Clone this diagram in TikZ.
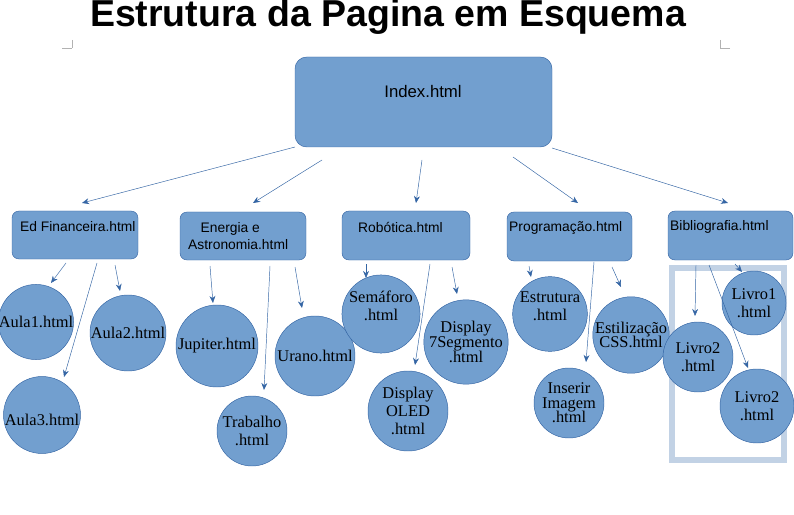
\documentclass[tikz,border=0pt]{standalone}
\usepackage{fontspec}
\setmainfont{Liberation Serif}
\setsansfont{Liberation Sans}
\usetikzlibrary{positioning, arrows.meta}
\definecolor{pagefill}{HTML}{729FCF}
\definecolor{pageline}{HTML}{3465A4}
\definecolor{framegray}{HTML}{C2D2E5}

\begin{document}
\begin{tikzpicture}[
    x=0.03cm, y=-0.03cm,
    topic/.style={draw=pageline, fill=pagefill, rounded corners=6pt, inner sep=0pt, font=\sffamily\fontsize{11.8}{15}\selectfont, align=left},
    page/.style={draw=pageline, fill=pagefill, circle, inner sep=0pt, font=\fontsize{14}{15.5}\selectfont, align=center},
    link/.style={draw=pageline, -{Stealth[length=6pt,width=5pt]}}
]
   \useasboundingbox (0,0) rectangle (794,515);

   % title and page corner marks
   \node[font=\sffamily\bfseries\fontsize{32}{33}\selectfont] (title) at (388,17) {Estrutura da Pagina em Esquema};
   \draw[gray!60] (62,48) -- (72,48) (72,40) -- (72,48);
   \draw[gray!60] (730,48) -- (720,48) (720,40) -- (720,48);

   % frame round the Bibliografia pages
   \draw[framegray, line width=4.5pt] (672,268) rectangle (784,460);

   % root
   \draw[topic, rounded corners=10pt] (295,57) rectangle (552,147);
   \node[font=\sffamily\fontsize{14.3}{16}\selectfont] (idx) at (423,92) {Index.html};

   % topics
   \draw[topic] (12,211) rectangle (138,259);
   \node[topic, draw=none, fill=none, anchor=west] (ed) at (20,227) {Ed Financeira.html};
   \draw[topic] (180,212) rectangle (306,260);
   \node[topic, draw=none, fill=none, anchor=west] (en) at (188,236) {\hspace{0.9em}Energia e\\Astronomia.html};
   \draw[topic] (342,211) rectangle (470,260);
   \node[topic, draw=none, fill=none, anchor=west] (rb) at (358,227) {Robótica.html};
   \draw[topic] (507,212) rectangle (632,261);
   \node[topic, draw=none, fill=none, anchor=west] (pg) at (509,228) {Programação.html};
   \draw[topic] (668,211) rectangle (793,260);
   \node[topic, draw=none, fill=none, anchor=west] (bb) at (670,227) {Bibliografia.html};

   % pages
   \node[page, minimum size=2.16cm] (a1) at (36,322) {Aula1.html};
   \node[page, minimum size=2.28cm] (a2) at (128,333) {Aula2.html};
   \node[page, minimum size=2.1cm] (a3) at (42,415) {\\[2pt]Aula3.html};
   \node[page, minimum size=2.46cm] (ju) at (217,346) {Jupiter.html};
   \node[page, minimum size=2.1cm] (tr) at (252,431) {Trabalho\\.html};
   \node[page, minimum size=2.4cm] (ur) at (315,356) {Urano.html};
   \node[page, minimum size=2.16cm] (se) at (381,314) {Semáforo\\.html\\[-2pt]};
   \node[page, minimum size=2.4cm] (ol) at (408,411) {Display\\OLED\\.html};
   \node[page, minimum size=2.04cm] (sg) at (466,342) {Display\\[-3pt]7Segmento\\[-3pt].html};
   \node[page, minimum size=2.1cm] (es) at (550,314) {Estrutura\\.html\\[-2pt]};
   \node[page, minimum size=2.1cm] (im) at (569,403) {Inserir\\[-3pt]Imagem\\[-3pt].html};
   \node[page, minimum size=2.28cm] (cs) at (631,335) {Estilização\\[-3pt]CSS.html};
   \node[page, minimum size=2.1cm] (l2a) at (698,357) {Livro2\\.html\hspace{1em}};
   \node[page, minimum size=1.92cm] (l1) at (754,303) {Livro1\\.html};
   \node[page, minimum size=2.22cm] (l2b) at (757,406) {Livro2\\.html\hspace{0.8em}};

   % links: root to topics, topics to pages
   \foreach \xa/\ya/\xb/\yb in {295/147/82/203, 322/160/253/203, 422/160/416/203, 513/157/578/203, 552/148/728/203,
       66/263/51/283, 97/263/64/377, 115/265/120/291,
       210/266/213/303, 270/266/264/390, 295/267/302/308,
       366/264/366/278, 430/264/415/365, 452/267/457/294,
       529/266/531/277, 594/262/586/362, 612/267/621/287,
       696/265/695/316, 735/264/742/272, 709/265/748/368}
      \draw[link] (\xa,\ya) -- (\xb,\yb);
\end{tikzpicture}
\end{document}
